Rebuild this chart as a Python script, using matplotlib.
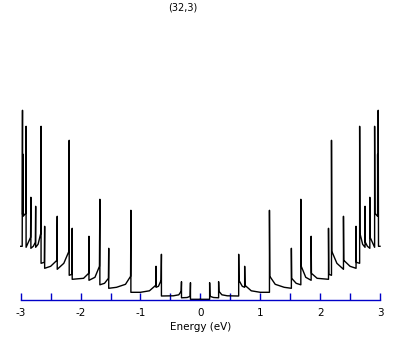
import matplotlib
matplotlib.use("Agg")
import matplotlib.pyplot as plt

plt.rcParams['font.family'] = ['DejaVu Sans']
plt.rcParams['axes.unicode_minus'] = False

# ─── density of states, (32,3) tube ───
# negative energy branch (valence side), from -3 eV up to 0
e_neg = [-3.00, -2.975, -2.97, -2.97, -2.965, -2.96, -2.96, -2.915, -2.91, -2.91,
         -2.835, -2.83, -2.83, -2.79, -2.755, -2.75, -2.75, -2.71, -2.665, -2.66,
         -2.66, -2.605, -2.60, -2.60, -2.50, -2.395, -2.39, -2.39, -2.28, -2.195,
         -2.19, -2.19, -2.145, -2.14, -2.14, -1.95, -1.865, -1.86, -1.86, -1.76,
         -1.685, -1.678, -1.678, -1.60, -1.535, -1.53, -1.53, -1.40, -1.25, -1.165,
         -1.16, -1.16, -1.00, -0.85, -0.745, -0.74, -0.74, -0.70, -0.655, -0.65,
         -0.65, -0.45, -0.36, -0.32, -0.315, -0.315, -0.22, -0.17, -0.165, -0.165,
         0.00]
dos_neg = [0.53, 0.53, 1.89, 0.85, 0.86, 1.45, 0.83, 0.86, 1.73, 0.52,
           0.62, 1.02, 0.51, 0.53, 0.57, 0.93, 0.52, 0.55, 0.66, 1.73,
           0.36, 0.37, 0.73, 0.31, 0.33, 0.39, 0.83, 0.30, 0.36, 0.48,
           1.59, 0.24, 0.25, 0.71, 0.20, 0.21, 0.26, 0.63, 0.19, 0.22,
           0.33, 1.00, 0.145, 0.16, 0.21, 0.51, 0.11, 0.12, 0.15, 0.23,
           0.89, 0.07, 0.07, 0.085, 0.14, 0.33, 0.12, 0.13, 0.19, 0.45,
           0.033, 0.035, 0.045, 0.08, 0.176, 0.015, 0.018, 0.03, 0.166, 0.00,
           0.00]

# positive energy branch (conduction side), from 0 up to 3 eV
e_pos = [0.00, 0.155, 0.155, 0.16, 0.22, 0.305, 0.305, 0.31, 0.36, 0.45,
         0.64, 0.64, 0.645, 0.70, 0.74, 0.74, 0.745, 0.85, 1.00, 1.154,
         1.154, 1.16, 1.25, 1.40, 1.52, 1.52, 1.525, 1.60, 1.678, 1.678,
         1.685, 1.76, 1.85, 1.85, 1.855, 1.95, 2.14, 2.14, 2.145, 2.19,
         2.19, 2.195, 2.28, 2.39, 2.39, 2.395, 2.50, 2.60, 2.60, 2.605,
         2.66, 2.66, 2.665, 2.71, 2.75, 2.75, 2.755, 2.79, 2.83, 2.83,
         2.835, 2.91, 2.91, 2.915, 2.96, 2.96, 2.965, 2.97, 2.97, 2.975,
         3.00]
dos_pos = [0.00, 0.00, 0.166, 0.03, 0.018, 0.015, 0.176, 0.08, 0.045, 0.035,
           0.033, 0.45, 0.19, 0.13, 0.12, 0.33, 0.14, 0.085, 0.07, 0.07,
           0.89, 0.23, 0.15, 0.12, 0.11, 0.51, 0.21, 0.16, 0.145, 1.00,
           0.33, 0.22, 0.19, 0.63, 0.26, 0.21, 0.20, 0.71, 0.25, 0.24,
           1.59, 0.48, 0.36, 0.30, 0.83, 0.39, 0.33, 0.31, 0.73, 0.37,
           0.36, 1.73, 0.66, 0.55, 0.52, 0.93, 0.57, 0.53, 0.51, 1.02,
           0.62, 0.52, 1.73, 0.86, 0.83, 1.45, 0.86, 0.85, 1.89, 0.53,
           0.53]

tick_pos = [-3, -2.5, -2, -1.5, -1, -0.5, 0, 0.5, 1, 1.5, 2, 2.5, 3]
tick_lab = ['-3', '', '-2', '', '-1', '', '0', '', '1', '', '2', '', '3']

# ─── figure ───
fig = plt.figure(figsize=(4.09, 3.45), dpi=100)
ax = fig.add_axes([20.7 / 409, 1 - 300 / 345, 359.3 / 409, 200 / 345])

ax.plot(e_neg, dos_neg, color='black', lw=1.0, clip_on=False)
ax.plot(e_pos, dos_pos, color='black', lw=1.0, clip_on=False)

ax.set_xlim(-3, 3)
ax.set_ylim(-0.007, 1.993)

for s in ['top', 'right', 'left']:
    ax.spines[s].set_visible(False)
ax.spines['bottom'].set_color('#0000c8')
ax.spines['bottom'].set_linewidth(1.0)
ax.set_yticks([])
ax.set_xticks(tick_pos)
ax.set_xticklabels(tick_lab, fontsize=7.5)
ax.tick_params(axis='x', direction='in', length=5, width=1.0,
               color='#0000c8', pad=6)
ax.set_xlabel('Energy (eV)', fontsize=7.5, labelpad=3)

fig.text(183 / 409, 1 - 8 / 345, '(32,3)', fontsize=7, ha='center', va='center')

fig.savefig('out.png', dpi=100, facecolor='white')
